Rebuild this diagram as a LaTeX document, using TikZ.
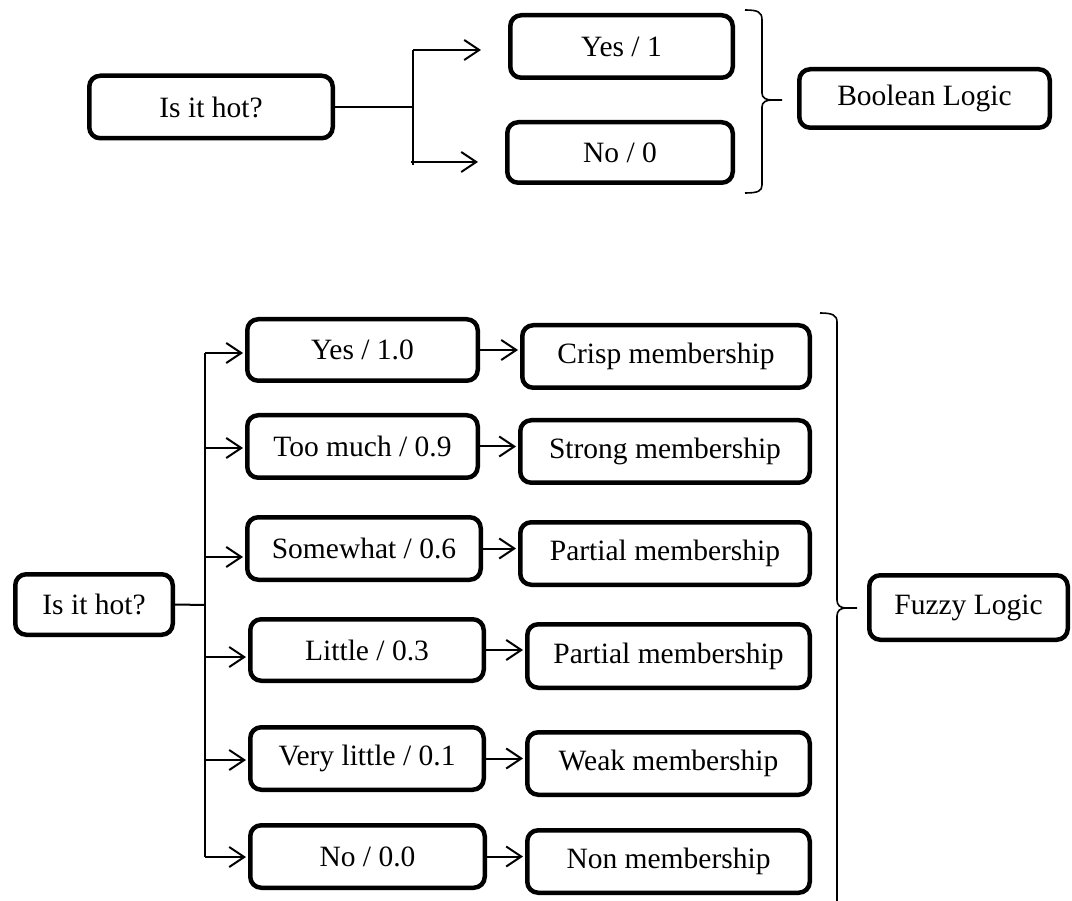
\documentclass[tikz,border=0pt]{standalone}
\usepackage{fontspec}
\setmainfont{Liberation Serif}
\usetikzlibrary{arrows.meta}
\begin{document}
\begin{tikzpicture}[x=1pt,y=-1pt,
 box/.style={draw, line width=4.5pt, rounded corners=11pt, inner sep=0pt, align=center,
   font=\fontsize{29.5}{34}\selectfont},
 conn/.style={line width=2pt},
 arr/.style={conn, -{Straight Barb[length=15pt,width=20pt,line width=2pt]}, shorten >=2pt},
 brk/.style={line width=1.6pt}]
\useasboundingbox (0,0) rectangle (1072,901);

% ---------- Boolean logic ----------
\node[box, minimum width=243.5pt, minimum height=62.5pt] (q1) at (211,107) {Is it hot?};
\node[box, minimum width=222.5pt, minimum height=62.5pt] (yes1) at (621.5,46.5) {Yes / 1};
\node[box, minimum width=225.5pt, minimum height=60.5pt] (no1) at (620,152.5) {No / 0};
\node[box, minimum width=250.5pt, minimum height=58.5pt] (bool) at (924.5,98.5) {Boolean Logic};

\coordinate (j1) at (413,107);
\coordinate (t1) at (413,50);
\coordinate (t2) at (413,165);
\coordinate (u2) at (411,162);
\draw[conn] (q1.east) -- (j1);
\draw[conn] (t1) -- (t2);
\draw[arr, shorten >=27pt] (t1) -- (t1 -| yes1.west);
\draw[arr, shorten >=27pt] (u2) -- (u2 -| no1.west);

\draw[brk] (745,10) .. controls (758,10) and (762,12) .. (762,20) -- (762,93)
  .. controls (762,98) and (766,100) .. (772,100) -- (782,100);
\draw[brk] (772,100) .. controls (766,100) and (762,102) .. (762,107) -- (762,185)
  .. controls (762,191) and (758,193) .. (745,193);

% ---------- Fuzzy logic ----------
\node[box, minimum width=157.5pt, minimum height=60.5pt] (q2) at (94,604.5) {Is it hot?};

\node[box, minimum width=230.5pt, minimum height=61.5pt] (a1) at (362.5,350) {Yes / 1.0};
\node[box, minimum width=230.5pt, minimum height=62.5pt] (a2) at (362.5,446.5) {Too much / 0.9};
\node[box, minimum width=233.5pt, minimum height=62.5pt] (a3) at (364,548.5) {Somewhat / 0.6};
\node[box, minimum width=233.5pt, minimum height=61.5pt] (a4) at (367,650) {Little / 0.3};
\node[box, minimum width=233.5pt, minimum height=62.5pt] (a5) at (367,758.5) {Very little / 0.1};
\node[box, minimum width=234.5pt, minimum height=62.5pt] (a6) at (367.5,856.5) {No / 0.0};

\node[box, minimum width=287.5pt, minimum height=62.5pt] (b1) at (666,356.5) {Crisp membership};
\node[box, minimum width=289.5pt, minimum height=62.5pt] (b2) at (665,451.5) {Strong membership};
\node[box, minimum width=289.5pt, minimum height=62.5pt] (b3) at (665,553.5) {Partial membership};
\node[box, minimum width=282.5pt, minimum height=63.5pt] (b4) at (668.5,656) {Partial membership};
\node[box, minimum width=282.5pt, minimum height=62.5pt] (b5) at (668.5,763.5) {Weak membership};
\node[box, minimum width=282.5pt, minimum height=62.5pt] (b6) at (668.5,861.5) {Non membership};

\node[box, minimum width=198.5pt, minimum height=64.5pt] (fuzzy) at (968.5,607.5) {Fuzzy Logic};

\coordinate (s0) at (205,605);
\coordinate (r1) at (205,353);
\coordinate (r2) at (205,448);
\coordinate (r3) at (205,557);
\coordinate (r4) at (205,657);
\coordinate (r5) at (205,760);
\coordinate (r6) at (205,857);
\draw[conn] (q2.east) -- (s0);
\draw[conn] (r1) -- (r6);
\foreach \i in {1,...,6}{
  \draw[arr] (r\i) -- (r\i -| a\i.west);
  \draw[arr] (a\i.east) -- (a\i.east -| b\i.west);
}

\draw[brk] (820,313) .. controls (832,313) and (837,315) .. (837,322) -- (837,600)
  .. controls (837,605) and (840,608) .. (846,608) -- (857,608);
\draw[brk] (846,608) .. controls (840,608) and (837,611) .. (837,616) -- (837,901);
\end{tikzpicture}
\end{document}
